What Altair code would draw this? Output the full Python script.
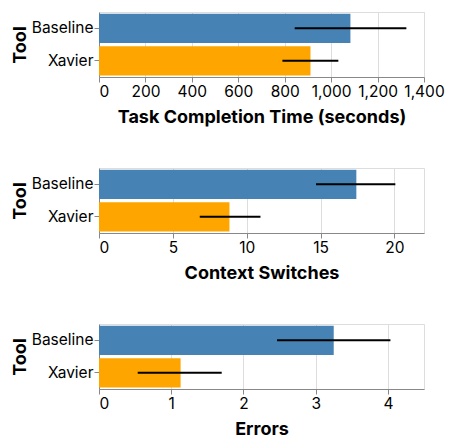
import altair as alt
import pandas as pd

tools = ["Baseline", "Xavier"]
colors = ["#4682b4", "#ffa500"]

time_mean = [1083, 911]
time_lo = [843, 790]
time_hi = [1324, 1031]

switch_mean = [17.42, 8.83]
switch_lo = [14.69, 6.82]
switch_hi = [20.06, 10.93]

err_mean = [3.25, 1.13]
err_lo = [2.465, 0.536]
err_hi = [4.035, 1.699]

label_align = {"condition": {"test": "datum.value == 0", "value": "left"}, "value": "center"}


def panel(mean, lo, hi, title):
    df = pd.DataFrame({"Tool": tools, "mean": mean, "lo": lo, "hi": hi})
    y = alt.Y(
        "Tool:N", title="Tool", sort=tools,
        axis=alt.Axis(labelFontSize=15.5, labelPadding=1, titlePadding=2),
    )
    bars = alt.Chart(df).mark_bar().encode(
        x=alt.X(
            "mean:Q",
            title=title,
            axis=alt.Axis(
                tickCount=5, labelFlush=False, labelAlign=label_align,
                titlePadding=9, labelFontSize=15.5,
            ),
        ),
        y=y,
        color=alt.Color("Tool:N", scale=alt.Scale(domain=tools, range=colors), legend=None),
    )
    errs = alt.Chart(df).mark_rule(color="black", strokeWidth=2).encode(
        x="lo:Q", x2="hi:Q", y=y
    )
    return (bars + errs).properties(width=325, height=65)


chart = alt.vconcat(
    panel(time_mean, time_lo, time_hi, "Task Completion Time (seconds)"),
    panel(switch_mean, switch_lo, switch_hi, "Context Switches"),
    panel(err_mean, err_lo, err_hi, "Errors"),
    spacing=40,
).properties(
    padding={"left": 2, "right": 0, "top": 3, "bottom": 0}
).configure(font="Inter").configure_axis(
    labelFontSize=16, titleFontSize=18, labelFont="Inter", titleFont="Inter"
)

chart.save("out.html", embed_options={"renderer": "svg", "actions": False})
